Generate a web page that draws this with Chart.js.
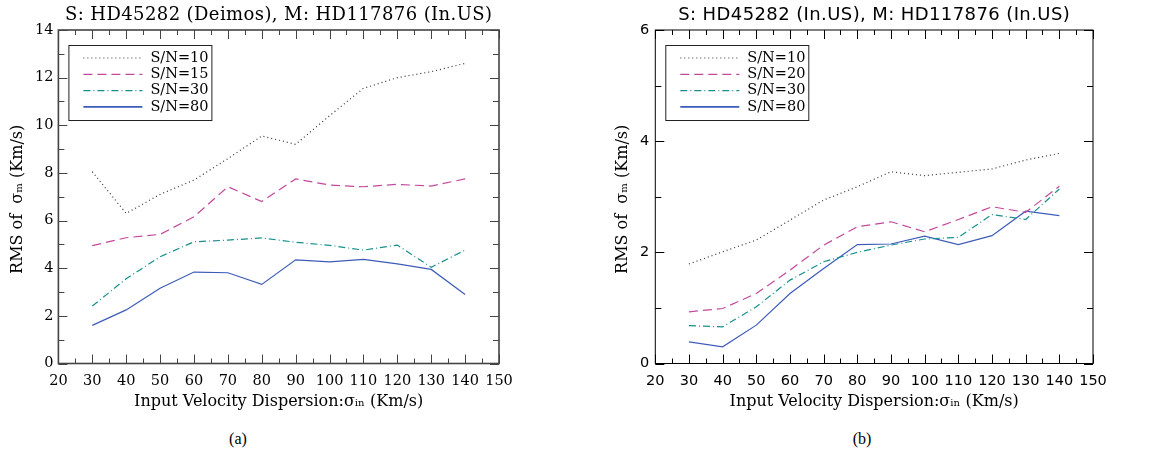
<!DOCTYPE html>
<html lang="en">
<head>
<meta charset="UTF-8">
<title>RMS of sigma_m vs input velocity dispersion</title>
<script src="https://cdn.jsdelivr.net/npm/chart.js"></script>
<style>
  body { margin: 0; background: #fff; width: 1153px; height: 460px; position: relative; overflow: hidden; }
  .panel { position: absolute; top: 0; height: 420px; }
  .cap { position: absolute; top: 430px; font: 16px "Liberation Serif", serif; color: #000; transform: translateX(-50%); }
</style>
</head>
<body>
<div class="panel" style="left:0;width:576px"><canvas id="chartA" width="576" height="420"></canvas></div>
<div class="panel" style="left:576px;width:577px"><canvas id="chartB" width="577" height="420"></canvas></div>
<div class="cap" style="left:238px">(a)</div>
<div class="cap" style="left:862px">(b)</div>

<script>
// input velocity dispersion (km/s)
const sigmaIn = [30, 40, 50, 60, 70, 80, 90, 100, 110, 120, 130, 140];

// axis ticks
const xTicks = [20, 30, 40, 50, 60, 70, 80, 90, 100, 110, 120, 130, 140, 150];
const xMinorTicks = [25, 35, 45, 55, 65, 75, 85, 95, 105, 115, 125, 135, 145];
const yTicksA = [0, 2, 4, 6, 8, 10, 12, 14];
const yMinorTicksA = [1, 3, 5, 7, 9, 11, 13];
const yTicksB = [0, 2, 4, 6];
const yMinorTicksB = [1, 3, 5];

// panel (a): S: HD45282 (Deimos), M: HD117876 (In.US)
const labelsA = ['S/N=10', 'S/N=15', 'S/N=30', 'S/N=80'];
const rmsA_sn10 = [8.05, 6.3, 7.1, 7.7, 8.6, 9.55, 9.2, 10.4, 11.55, 12.0, 12.25, 12.6];
const rmsA_sn15 = [4.95, 5.28, 5.42, 6.16, 7.42, 6.8, 7.75, 7.49, 7.42, 7.52, 7.45, 7.75];
const rmsA_sn30 = [2.41, 3.56, 4.48, 5.11, 5.18, 5.27, 5.09, 4.96, 4.76, 4.97, 4.04, 4.76];
const rmsA_sn80 = [1.6, 2.25, 3.16, 3.84, 3.81, 3.32, 4.35, 4.27, 4.37, 4.18, 3.95, 2.9];

// panel (b): S: HD45282 (In.US), M: HD117876 (In.US)
const labelsB = ['S/N=10', 'S/N=20', 'S/N=30', 'S/N=80'];
const rmsB_sn10 = [1.79, 2.01, 2.22, 2.58, 2.94, 3.18, 3.45, 3.38, 3.44, 3.5, 3.66, 3.78];
const rmsB_sn20 = [0.93, 0.99, 1.26, 1.68, 2.13, 2.46, 2.55, 2.37, 2.59, 2.82, 2.72, 3.19];
const rmsB_sn30 = [0.68, 0.66, 1.02, 1.5, 1.83, 2.0, 2.13, 2.24, 2.27, 2.68, 2.59, 3.14];
const rmsB_sn80 = [0.39, 0.3, 0.69, 1.26, 1.71, 2.14, 2.15, 2.29, 2.14, 2.3, 2.74, 2.66];

const lineStyles = [
  { color: '#333333', dash: [1, 3] },
  { color: '#c2489c', dash: [9, 5] },
  { color: '#17908c', dash: [7, 3, 1, 3] },
  { color: '#3d5cb8', dash: [] }
];

const serif = '"DejaVu Serif", serif';
const sans = '"DejaVu Sans", sans-serif';

// IDL-style frame: inward ticks on all four sides, title over the plot, boxed legend
const idlFrame = {
  id: 'idlFrame',
  afterDraw(chart, args, o) {
    const { ctx, chartArea: a, scales: { x, y } } = chart;
    ctx.save();
    ctx.setLineDash([]);
    ctx.strokeStyle = o.color;
    ctx.lineWidth = 1;
    ctx.beginPath();
    const xt = (v, len) => {
      const px = Math.round(x.getPixelForValue(v)) + 0.5;
      ctx.moveTo(px, a.bottom); ctx.lineTo(px, a.bottom - len);
      ctx.moveTo(px, a.top); ctx.lineTo(px, a.top + len);
    };
    const yt = (v, len) => {
      const py = Math.round(y.getPixelForValue(v)) + 0.5;
      ctx.moveTo(a.left, py); ctx.lineTo(a.left + len, py);
      ctx.moveTo(a.right, py); ctx.lineTo(a.right - len, py);
    };
    xTicks.forEach(v => xt(v, 9));
    xMinorTicks.forEach(v => xt(v, 5));
    o.yTicks.forEach(v => yt(v, 9));
    o.yMinor.forEach(v => yt(v, 6));
    ctx.stroke();
    ctx.lineWidth = o.frameWidth;
    ctx.strokeRect(a.left, a.top, a.right - a.left, a.bottom - a.top);

    // title
    ctx.fillStyle = '#000';
    ctx.font = '18px ' + o.titleFont;
    ctx.letterSpacing = '0.4px';
    ctx.textAlign = 'center';
    ctx.textBaseline = 'middle';
    ctx.fillText(o.title, (a.left + a.right) / 2, 15);
    ctx.letterSpacing = '0px';

    // legend
    const bx = a.left + 10, by = a.top + 15, bw = 143, bh = 75;
    ctx.lineWidth = 1;
    ctx.strokeStyle = '#222';
    ctx.strokeRect(bx + 0.5, by + 0.5, bw, bh);
    ctx.font = '14.5px ' + serif;
    ctx.textAlign = 'left';
    chart.data.datasets.forEach((ds, i) => {
      const ry = by + 13 + i * 16.3;
      ctx.beginPath();
      ctx.setLineDash(ds.borderDash);
      ctx.strokeStyle = ds.borderColor;
      ctx.lineWidth = ds.borderDash.length ? 1.2 : 1.8;
      ctx.moveTo(bx + 15, ry); ctx.lineTo(bx + 74, ry);
      ctx.stroke();
      ctx.fillText(ds.label, bx + 82, ry);
    });
    ctx.restore();
  }
};

function makeChart(id, p) {
  const datasets = p.series.map((vals, i) => ({
    label: p.labels[i],
    data: sigmaIn.map((s, k) => ({ x: s, y: vals[k] })),
    borderColor: lineStyles[i].color,
    borderDash: lineStyles[i].dash,
    borderWidth: 1.2,
    pointRadius: 0,
    tension: 0,
    fill: false
  }));
  return new Chart(document.getElementById(id), {
    type: 'line',
    data: { datasets },
    plugins: [idlFrame],
    options: {
      responsive: false,
      animation: false,
      layout: { padding: { left: p.padLeft, right: p.padRight, top: 30, bottom: 0 } },
      plugins: {
        legend: { display: false },
        tooltip: { enabled: false },
        title: { display: false },
        idlFrame: { color: p.frameColor, frameWidth: p.frameWidth, yTicks: p.yTicks, yMinor: p.yMinor,
                    title: p.title, titleFont: p.titleFont }
      },
      scales: {
        x: {
          type: 'linear',
          min: 20, max: 150,
          afterBuildTicks: s => { s.ticks = xTicks.map(v => ({ value: v })); },
          afterFit: s => { s.height = 420 - 363.5; },
          grid: { display: false, drawTicks: false },
          border: { display: false },
          ticks: { color: '#000', padding: 9, maxRotation: 0, autoSkip: false,
                   font: { family: p.tickFont, size: 14.5 } },
          title: {
            display: true,
            text: 'Input Velocity Dispersion:σᵢₙ (Km/s)',
            color: '#000',
            font: { family: serif, size: 16, lineHeight: 1.2 },
            padding: { top: 0, bottom: 9 }
          }
        },
        y: {
          type: 'linear',
          min: 0, max: p.yMax,
          afterBuildTicks: s => { s.ticks = p.yTicks.map(v => ({ value: v })); },
          afterFit: s => { s.width = p.yWidth; },
          grid: { display: false, drawTicks: false },
          border: { display: false },
          ticks: { color: '#000', padding: p.yPad, autoSkip: false,
                   font: { family: p.tickFont, size: 14.5 } },
          title: {
            display: true,
            text: 'RMS of  σₘ (Km/s) ',
            color: '#000',
            font: { family: serif, size: 16, lineHeight: 1.2 },
            padding: { top: 8.5, bottom: 0 }
          }
        }
      }
    }
  });
}

makeChart('chartA', {
  title: 'S: HD45282 (Deimos), M: HD117876 (In.US)',
  titleFont: serif, tickFont: serif,
  labels: labelsA,
  series: [rmsA_sn10, rmsA_sn15, rmsA_sn30, rmsA_sn80],
  yMax: 14, yTicks: yTicksA, yMinor: yMinorTicksA,
  padLeft: 0, padRight: 77, yWidth: 58.4, yPad: 5,
  frameColor: '#444', frameWidth: 1.6
});

makeChart('chartB', {
  title: 'S: HD45282 (In.US), M: HD117876 (In.US)',
  titleFont: sans, tickFont: sans,
  labels: labelsB,
  series: [rmsB_sn10, rmsB_sn20, rmsB_sn30, rmsB_sn80],
  yMax: 6, yTicks: yTicksB, yMinor: yMinorTicksB,
  padLeft: 29, padRight: 60, yWidth: 50.3, yPad: 6,
  frameColor: '#000', frameWidth: 1
});
</script>
</body>
</html>
